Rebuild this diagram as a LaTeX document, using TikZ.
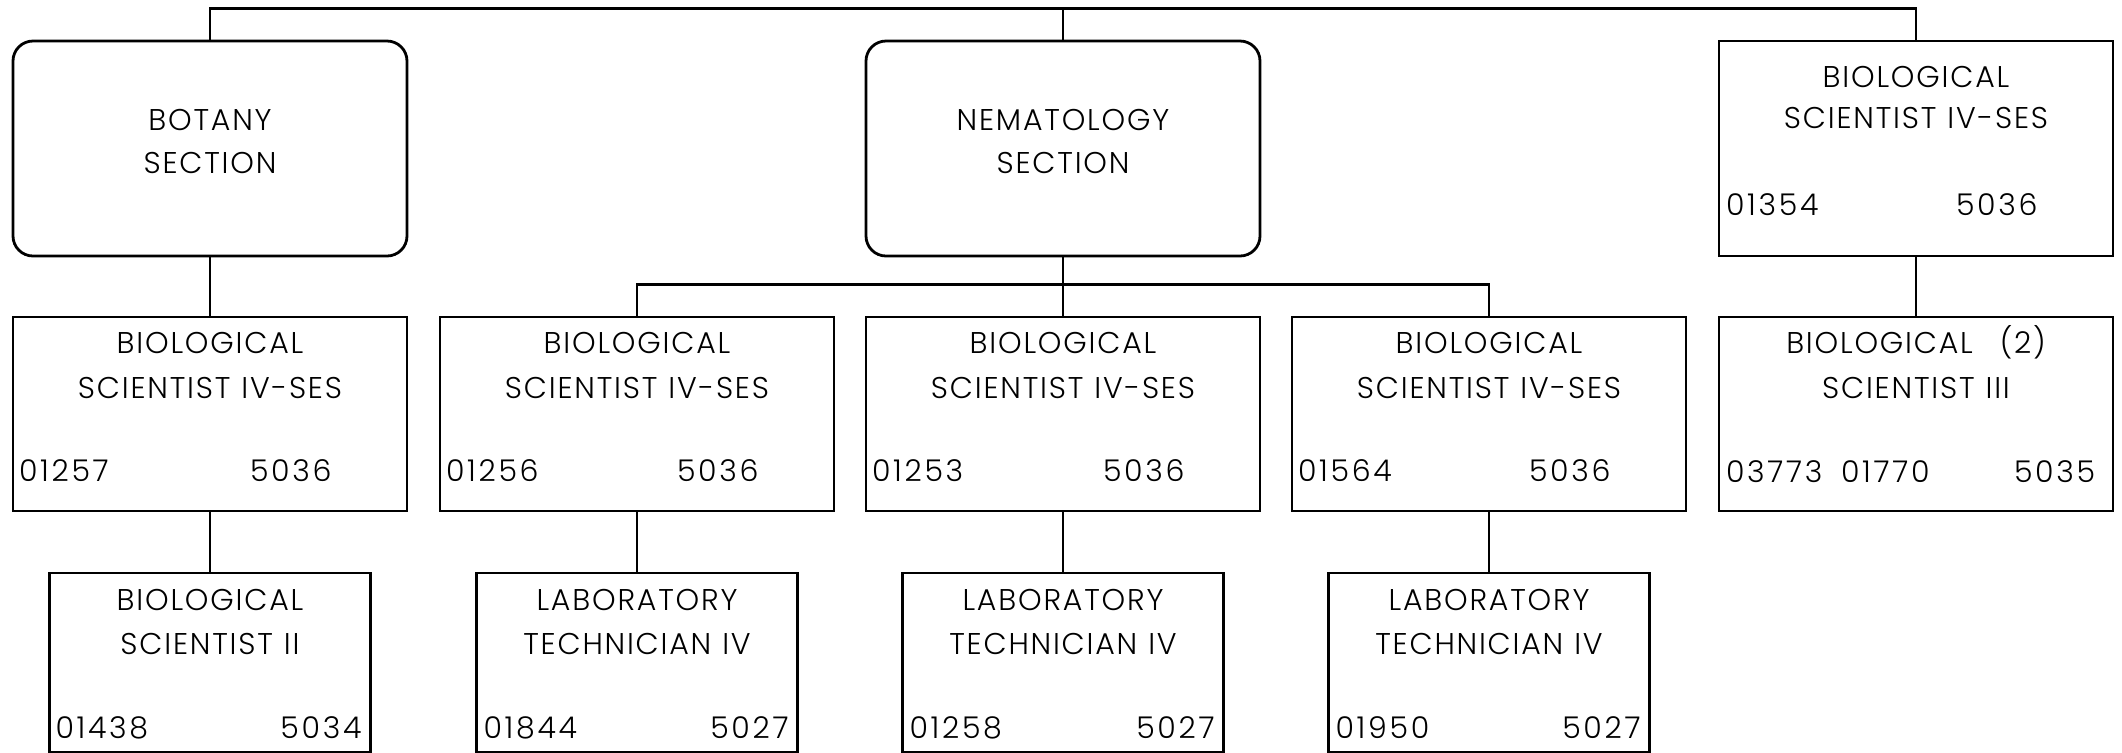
\documentclass[tikz,border=0pt]{standalone}
\usepackage{fontspec}
\setmainfont{Poppins Light}[LetterSpace=6,WordSpace=1.1]
\newfontfamily\digitfont{Poppins Light}[LetterSpace=9,Numbers=Monospaced]
\usetikzlibrary{calc}
\begin{document}
\begin{tikzpicture}[x=0.5pt,y=-0.5pt,
  box/.style={draw,line width=1.4pt,minimum width=197pt,minimum height=97pt,inner sep=0pt},
  sectionbox/.style={box,rounded corners=10pt,minimum height=107.5pt},
  headbox/.style={box,minimum height=107.5pt},
  smallbox/.style={box,minimum width=160.5pt,minimum height=89.5pt},
  title/.style={anchor=base,inner sep=0pt,font=\fontsize{15}{15}\selectfont},
  numl/.style={anchor=base west,inner sep=0pt,font=\digitfont\fontsize{15}{15}\selectfont},
  numr/.style={anchor=base east,inner sep=0pt,font=\digitfont\fontsize{15}{15}\selectfont},
  link/.style={line width=1.4pt}]
\useasboundingbox (0,0) rectangle (2122,752);

% --- top row: sections and the stand-alone post
\node[sectionbox] (bot) at (210,148.5) {};
\node[title] (botA) at (210,130) {BOTANY};
\node[title] (botB) at (210,173) {SECTION};

\node[sectionbox] (nem) at (1063,148.5) {};
\node[title] (nemA) at (1063,130) {NEMATOLOGY};
\node[title] (nemB) at (1063,173) {SECTION};

\node[headbox] (hr) at (1916,148.5) {};
\node[title] (hrA) at (1916,87) {BIOLOGICAL};
\node[title] (hrB) at (1916,128) {SCIENTIST IV-SES};
\node[numl] (hrN1) at ($(hr.north west)+(8,176)$) {01354};
\node[numl] (hrN2) at ($(hr.north west)+(238,176)$) {5036};

% --- second row
\foreach \nm/\cx/\code in {b1/210/01257, b2/637/01256, b3/1063/01253, b4/1489/01564}{
  \node[box] (\nm) at (\cx,414) {};
  \node[title] (\nm A) at (\cx,353) {BIOLOGICAL};
  \node[title] (\nm B) at (\cx,398) {SCIENTIST IV-SES};
  \node[numl] (\nm N1) at ($(\nm.north west)+(7,166)$) {\code};
  \node[numl] (\nm N2) at ($(\nm.north west)+(238,166)$) {5036};
}
\node[box] (b5) at (1916,414) {};
\node[title] (b5A) at (1916,353) {BIOLOGICAL\hspace{0.9em}(2)};
\node[title] (b5B) at (1916,398) {SCIENTIST III};
\node[numl] (b5N1) at ($(b5.north west)+(8,167)$) {03773};
\node[numl] (b5N2) at ($(b5.north west)+(123,167)$) {01770};
\node[numl] (b5N3) at ($(b5.north west)+(296,167)$) {5035};

% --- third row
\node[smallbox] (s1) at (210,662.5) {};
\node[title] (s1A) at (210,610) {BIOLOGICAL};
\node[title] (s1B) at (210,654) {SCIENTIST II};
\node[numl] (s1N1) at ($(s1.north west)+(7,167)$) {01438};
\node[numr] (s1N2) at ($(s1.north east)+(-10,167)$) {5034};
\foreach \nm/\cx/\code in {s2/637/01844, s3/1063/01258, s4/1489/01950}{
  \node[smallbox] (\nm) at (\cx,662.5) {};
  \node[title] (\nm A) at (\cx,610) {LABORATORY};
  \node[title] (\nm B) at (\cx,654) {TECHNICIAN IV};
  \node[numl] (\nm N1) at ($(\nm.north west)+(8,167)$) {\code};
  \node[numr] (\nm N2) at ($(\nm.north east)+(-10,167)$) {5027};
}

% --- connectors
\draw[link] (bot.north) -- ++(0,-31) -| (hr.north);
\draw[link] (nem.north) -- ++(0,-31);
\draw[link] (bot.south) -- (b1.north);
\draw[link] (nem.south) -- (b3.north);
\draw[link] (b2.north) -- ++(0,-31) -| (b4.north);
\draw[link] (hr.south) -- (b5.north);
\draw[link] (b1.south) -- (s1.north);
\draw[link] (b2.south) -- (s2.north);
\draw[link] (b3.south) -- (s3.north);
\draw[link] (b4.south) -- (s4.north);
\end{tikzpicture}
\end{document}
